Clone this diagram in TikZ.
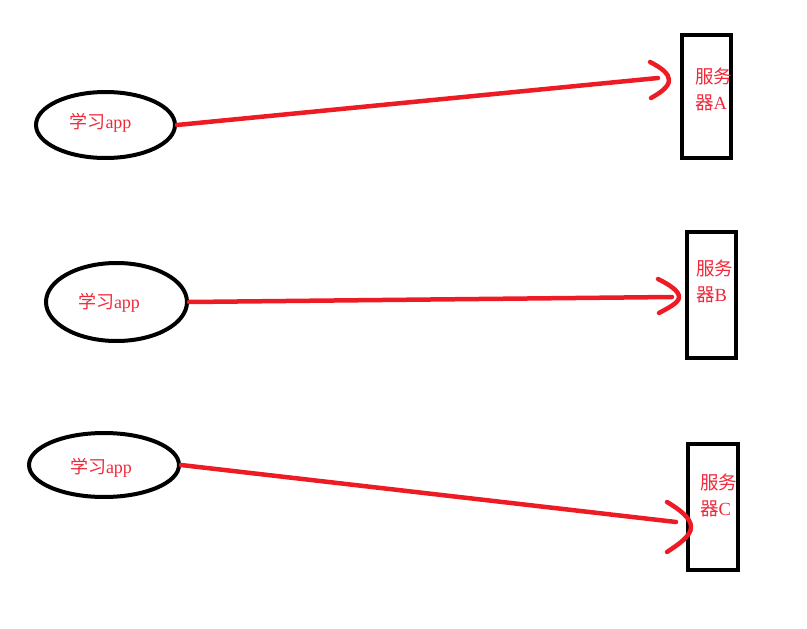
\documentclass[tikz,border=0pt]{standalone}
\usepackage{fontspec}
\setmainfont{Liberation Serif}
\newfontfamily\cjk{Noto Sans CJK SC}
\usetikzlibrary{shapes.geometric}
\definecolor{pred}{HTML}{ED1C24}
\definecolor{tred}{HTML}{F0283A}
\tikzset{
  app/.style={draw=black, line width=4pt, ellipse, inner sep=0pt},
  srv/.style={draw=black, line width=4pt, rectangle, inner sep=0pt, minimum width=49pt},
  lbl/.style={text=tred, font=\fontsize{18pt}{20pt}\selectfont, inner sep=0pt},
  slbl/.style={text=tred, font=\fontsize{18.5pt}{26pt}\selectfont, inner sep=0pt, align=left},
  conn/.style={draw=pred, line width=4.5pt, line cap=round, line join=round},
}
\begin{document}
\begin{tikzpicture}[x=1pt,y=-1pt]
\useasboundingbox (0,0) rectangle (807,629);
% apps
\node[app, minimum width=139pt, minimum height=66pt] (a1) at (105.5,125) {};
\node[app, minimum width=141pt, minimum height=78pt] (a2) at (116.5,302) {};
\node[app, minimum width=150pt, minimum height=64pt] (a3) at (104,465) {};
\node[lbl] (t1) at (100.5,123) {{\cjk 学习}app};
\node[lbl] (t2) at (109,303) {{\cjk 学习}app};
\node[lbl] (t3) at (101,468) {{\cjk 学习}app};
% servers
\node[srv, minimum height=123pt] (s1) at (706.5,96.5) {};
\node[srv, minimum height=126pt] (s2) at (711,295) {};
\node[srv, minimum width=50pt, minimum height=126pt] (s3) at (713,507) {};
\node[slbl] (u1) at (713.5,89) {{\cjk 服务}\\{\cjk 器}A};
\node[slbl] (u2) at (714.5,281) {{\cjk 服务}\\{\cjk 器}B};
\node[slbl] (u3) at (718.5,495) {{\cjk 服务}\\{\cjk 器}C};
% arrow tips
\coordinate (p1) at (669,80);
\coordinate (p2) at (679,297);
\coordinate (p3) at (691,527);
\coordinate (e1) at (658,78);
\coordinate (e2) at (672,297);
\coordinate (e3) at (676,522);
% connectors
\draw[conn] (a1.east) -- (e1);
\draw[conn] (a2.east) -- (e2);
\draw[conn] (a3.east) -- (e3);
\draw[conn] (650,62) .. controls (662,68) and (669,74) .. (p1) .. controls (669,87) and (660,93) .. (651,98);
\draw[conn] (658,279) .. controls (670,285) and (679,291) .. (p2) .. controls (679,303) and (668,308) .. (659,313);
\draw[conn] (667,502) .. controls (679,509) and (691,518) .. (p3) .. controls (691,536) and (679,544) .. (667,552);
\end{tikzpicture}
\end{document}
